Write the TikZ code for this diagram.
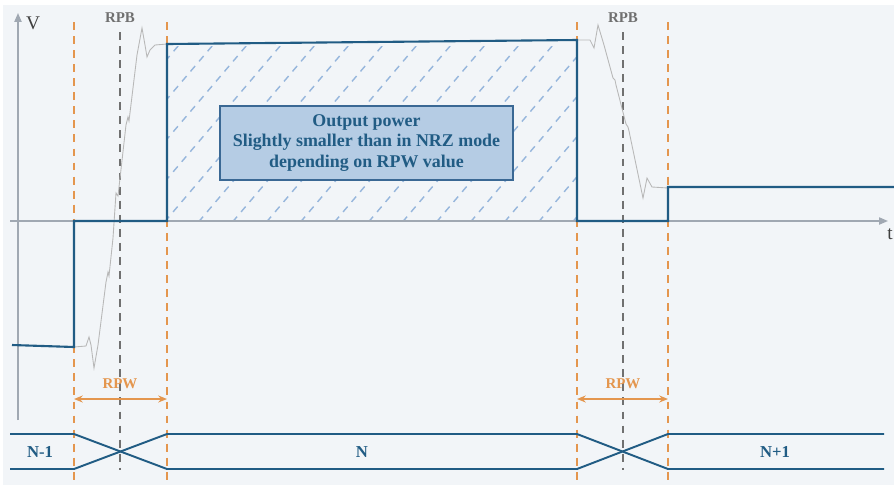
\documentclass[tikz,border=0pt]{standalone}
\usepackage{fontspec}
\setmainfont{Liberation Serif}
\usepackage{xcolor}
\usetikzlibrary{arrows.meta,positioning,calc}

\definecolor{bgcol}{RGB}{242,245,248}
\definecolor{sigblue}{RGB}{33,92,132}
\definecolor{rpworange}{RGB}{228,150,78}
\definecolor{rpbgrey}{RGB}{112,112,112}
\definecolor{axisgrey}{RGB}{160,168,178}
\definecolor{hatchblue}{RGB}{150,182,220}
\definecolor{boxfill}{RGB}{181,204,228}
\definecolor{boxedge}{RGB}{58,104,148}

\begin{document}
\begin{tikzpicture}[x=0.02cm, y=-0.02cm,
        axis/.style={draw=axisgrey, line width=0.9pt, -{Triangle[length=5pt,width=4pt]}},
        signal/.style={draw=sigblue, line width=1.2pt, line join=miter},
        ringing/.style={draw=black!28, line width=0.5pt},
        bitedge/.style={draw=rpworange, line width=1.1pt, dash pattern=on 4.5pt off 3.5pt},
        rpbline/.style={draw=rpbgrey, line width=1pt, dash pattern=on 4.5pt off 3.5pt},
        hatch/.style={draw=hatchblue, line width=0.8pt, dash pattern=on 4pt off 3.5pt},
        bus/.style={draw=sigblue, line width=1.1pt},
        rpwarrow/.style={{Stealth[length=5pt,width=4pt]}-{Stealth[length=5pt,width=4pt]}, draw=rpworange, line width=1.1pt},
        infobox/.style={rectangle, draw=boxedge, line width=0.8pt, fill=boxfill, minimum width=293*0.02cm, minimum height=74*0.02cm, align=center, text=sigblue, font=\fontsize{10.2}{11.8}\selectfont\bfseries},
        rpblabel/.style={text=rpbgrey, font=\fontsize{8.5}{10}\selectfont\bfseries, inner sep=1pt},
        rpwlabel/.style={text=rpworange, font=\fontsize{8.5}{10}\selectfont\bfseries, inner sep=1pt},
        buslabel/.style={text=sigblue, font=\fontsize{9.5}{10}\selectfont\bfseries, inner sep=1pt},
        axislabel/.style={text=black!75, font=\fontsize{11}{12}\selectfont, inner sep=1pt}
    ]

    % background
    \fill[white] (0,0) rectangle (894,485);
    \fill[bgcol] (3,5) rectangle (894,485);
    \useasboundingbox (0,0) rectangle (894,485);

    % === Hatched output power area ===
    \begin{scope}
        \clip (167,46) rectangle (577,219);
        \foreach \i in {0,...,19}
            \draw[hatch] (20+\i*34,232) -- ++(170,-200);
    \end{scope}

    % === Axes ===
    \coordinate (yfoot) at (18,420);
    \coordinate (ytip) at (18,13);
    \coordinate (xfoot) at (10,221);
    \coordinate (xtip) at (888,221);
    \draw[axis] (yfoot) -- (ytip);
    \draw[axis] (xfoot) -- (xtip);
    \node[axislabel] (vlabel) at (33,23) {V};
    \node[axislabel] (tlabel) at (890,234) {t};

    % === Bit boundaries (orange) and RPB markers (grey) ===
    \foreach \name/\xx in {e1/74, e2/167, e3/577, e4/668}
        \draw[bitedge] (\xx,22) coordinate (\name top) -- (\xx,485) coordinate (\name bot);
    \node[rpblabel] (rpbA) at (120,18) {RPB};
    \node[rpblabel] (rpbB) at (623,18) {RPB};
    \draw[rpbline] (rpbA.south) ++(0,7) -- (120,470);
    \draw[rpbline] (rpbB.south) ++(0,7) -- (623,470);

    % === Ringing transitions ===
    \draw[ringing] (74,347) -- (86,346) -- (89,337) -- (91,345) -- (94,368) -- (98,345)
        -- (106,282) -- (108,272) -- (109,276) -- (113,238) -- (116,193) -- (118,196)
        -- (126,125) -- (128,117) -- (129,121) -- (137,55) -- (142,28) -- (145,45)
        -- (147,57) -- (150,50) -- (155,45) -- (167,44);
    \draw[ringing] (577,40) -- (590,40) -- (594,48) -- (598,25) -- (604,45) -- (613,78)
        -- (615,80) -- (616,85) -- (626,124) -- (628,127) -- (629,131) -- (643,198)
        -- (647,178) -- (652,187) -- (668,188);

    % === Output signal ===
    \coordinate (s0) at (12,345);
    \coordinate (s1) at (74,347);
    \coordinate (s2) at (74,221);
    \coordinate (s3) at (167,221);
    \coordinate (s4) at (167,44);
    \coordinate (s5) at (577,40);
    \coordinate (s6) at (577,221);
    \coordinate (s7) at (668,221);
    \coordinate (s8) at (668,187);
    \coordinate (s9) at (894,187);
    \draw[signal] (s0) -- (s1) -- (s2) -- (s3) -- (s4) -- (s5) -- (s6) -- (s7) -- (s8) -- (s9);

    % === Output power note ===
    \node[infobox] (power) at (366.5,143) {Output power\\Slightly smaller than in NRZ mode\\depending on RPW value};

    % === RPW spans ===
    \draw[rpwarrow] (e1top |- 0,399) -- (e2top |- 0,399);
    \node[rpwlabel] (rpwA) at (120,384) {RPW};
    \draw[rpwarrow] (e3top |- 0,399) -- (e4top |- 0,399);
    \node[rpwlabel] (rpwB) at (623,384) {RPW};

    % === Data bus ===
    \draw[bus] (10,434) -- (74,434) -- (167,469) -- (577,469) -- (668,434) -- (884,434);
    \draw[bus] (10,469) -- (74,469) -- (167,434) -- (577,434) -- (668,469) -- (884,469);
    \node[buslabel] (nprev) at (40,452) {N-1};
    \node[buslabel] (ncur) at (362,452) {N};
    \node[buslabel] (nnext) at (775,452) {N+1};

\end{tikzpicture}
\end{document}
